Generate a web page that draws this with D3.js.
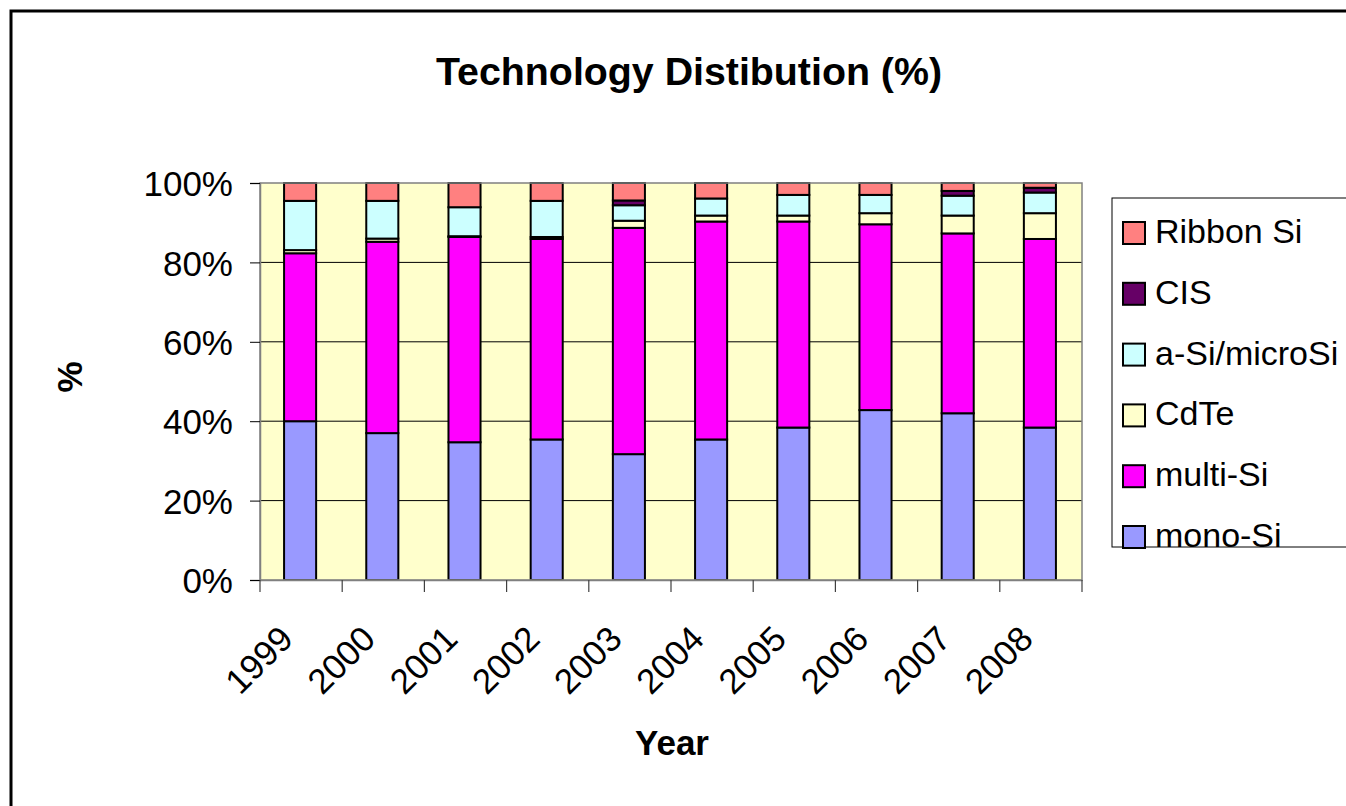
<!DOCTYPE html>
<html>
<head>
<meta charset="utf-8">
<script src="https://cdn.jsdelivr.net/npm/d3@7"></script>
<style>
body { margin: 0; background: #fff; }
svg { display: block; }
text { font-family: Arial, "Liberation Sans", sans-serif; fill: #000; }
</style>
</head>
<body>
<svg width="1346" height="806"></svg>
<script>
var years = ["1999", "2000", "2001", "2002", "2003", "2004", "2005", "2006", "2007", "2008"];
var monoSi   = [40.0, 37.0, 34.7, 35.4, 31.7, 35.4, 38.4, 42.8, 42.0, 38.4];
var multiSi  = [42.3, 48.2, 51.7, 50.5, 57.0, 54.9, 51.9, 46.8, 45.3, 47.5];
var cdTe     = [0.8, 0.8, 0.2, 0.5, 1.8, 1.5, 1.5, 2.8, 4.5, 6.5];
var aSi      = [12.4, 9.5, 7.3, 9.1, 3.9, 4.3, 5.2, 4.6, 5.0, 5.2];
var cis      = [0, 0, 0, 0, 1.2, 0, 0, 0, 1.2, 1.2];
var ribbonSi = [4.5, 4.5, 6.1, 4.5, 4.4, 3.9, 3.0, 3.0, 2.0, 1.2];
var seriesNames = ["mono-Si", "multi-Si", "CdTe", "a-Si/microSi", "CIS", "Ribbon Si"];
var seriesColors = ["#9999ff", "#ff00ff", "#ffffcc", "#ccffff", "#660066", "#ff8080"];
var yTicks = [0, 20, 40, 60, 80, 100];

var svg = d3.select("svg");

// rows for d3.stack
var allSeries = [monoSi, multiSi, cdTe, aSi, cis, ribbonSi];
var rows = years.map(function (yr, i) {
    var r = { year: yr };
    seriesNames.forEach(function (n, k) { r[n] = allSeries[k][i]; });
    return r;
});
var stacked = d3.stack().keys(seriesNames)(rows);

var plotL = 260, plotR = 1082, plotT = 183, plotB = 580;
var x = d3.scaleBand().domain(years).range([plotL, plotR]).padding(0);
var y = d3.scaleLinear().domain([0, 100]).range([plotB, plotT]);
var color = d3.scaleOrdinal().domain(seriesNames).range(seriesColors);
var barW = x.bandwidth() * 0.39;

// outer chart frame
svg.append("rect")
    .attr("x", 11).attr("y", 11)
    .attr("width", 1400).attr("height", 900)
    .attr("fill", "none").attr("stroke", "#000").attr("stroke-width", 3);

// title
svg.append("text")
    .text("Technology Distibution (%)")
    .attr("x", 436).attr("y", 85)
    .attr("textLength", 506).attr("lengthAdjust", "spacingAndGlyphs")
    .style("font-size", "38px").style("font-weight", "bold");

// plot background
svg.append("rect")
    .attr("x", plotL).attr("y", plotT)
    .attr("width", plotR - plotL).attr("height", plotB - plotT)
    .attr("fill", "#ffffcc");

// gridlines
svg.append("g").selectAll("line")
    .data(yTicks.filter(function (d) { return d > 0 && d < 100; }))
    .enter().append("line")
    .attr("x1", plotL).attr("x2", plotR)
    .attr("y1", function (d) { return y(d); })
    .attr("y2", function (d) { return y(d); })
    .attr("stroke", "#000").attr("stroke-width", 1);

// stacked bars
svg.append("g").selectAll("g")
    .data(stacked).enter().append("g")
    .attr("fill", function (d) { return color(d.key); })
    .selectAll("rect")
    .data(function (d) { return d; })
    .enter().append("rect")
    .attr("x", function (d) { return x(d.data.year) + (x.bandwidth() - barW) / 2 - 1; })
    .attr("width", barW)
    .attr("y", function (d) { return y(d[1]); })
    .attr("height", function (d) { return y(d[0]) - y(d[1]); })
    .attr("stroke", "#000").attr("stroke-width", 2);

// plot border
svg.append("rect")
    .attr("x", plotL).attr("y", plotT)
    .attr("width", plotR - plotL).attr("height", plotB - plotT)
    .attr("fill", "none").attr("stroke", "#808080").attr("stroke-width", 1.5);

// y axis
var yAxis = svg.append("g")
    .attr("transform", "translate(" + plotL + ",0)")
    .call(d3.axisLeft(y).tickValues(yTicks).tickFormat(function (d) { return d + "%"; })
        .tickSize(10).tickPadding(17));
yAxis.select(".domain").attr("stroke", "#808080").attr("stroke-width", 1.5);
yAxis.selectAll(".tick line").attr("stroke", "#000");
yAxis.selectAll("text").style("font-size", "35px").attr("dy", "0.36em");

// x axis: labels under each category, ticks between categories
var xAxis = svg.append("g")
    .attr("transform", "translate(0," + plotB + ")")
    .call(d3.axisBottom(x).tickSize(0).tickPadding(0));
xAxis.select(".domain").attr("stroke", "#808080").attr("stroke-width", 1.5);
xAxis.selectAll("text")
    .style("font-size", "35px")
    .attr("text-anchor", "end")
    .attr("dy", 0).attr("y", 0)
    .attr("transform", "translate(-6,61) rotate(-45)");

svg.append("g").selectAll("line")
    .data(years.concat(["end"]))
    .enter().append("line")
    .attr("x1", function (d) { return d === "end" ? plotR : x(d); })
    .attr("x2", function (d) { return d === "end" ? plotR : x(d); })
    .attr("y1", plotB).attr("y2", plotB + 12)
    .attr("stroke", "#404040").attr("stroke-width", 1.2);

// axis titles
svg.append("text")
    .text("Year")
    .attr("x", 672).attr("y", 755)
    .attr("text-anchor", "middle")
    .style("font-size", "35px").style("font-weight", "bold");

svg.append("text")
    .text("%")
    .attr("transform", "translate(82,377) rotate(-90)")
    .attr("text-anchor", "middle")
    .style("font-size", "35px").style("font-weight", "bold");

// legend
svg.append("rect")
    .attr("x", 1112).attr("y", 198)
    .attr("width", 300).attr("height", 349)
    .attr("fill", "#fff").attr("stroke", "#000").attr("stroke-width", 1);

var legendNames = seriesNames.slice().reverse();
var item = svg.append("g").selectAll("g")
    .data(legendNames).enter().append("g")
    .attr("transform", function (d, i) { return "translate(1123," + (233 + i * 60.8) + ")"; });
item.append("rect")
    .attr("x", 0).attr("y", -11)
    .attr("width", 22).attr("height", 22)
    .attr("fill", function (d) { return color(d); })
    .attr("stroke", "#000").attr("stroke-width", 2);
item.append("text")
    .text(function (d) { return d; })
    .attr("x", 32).attr("y", 10)
    .style("font-size", "34px");
</script>
</body>
</html>
